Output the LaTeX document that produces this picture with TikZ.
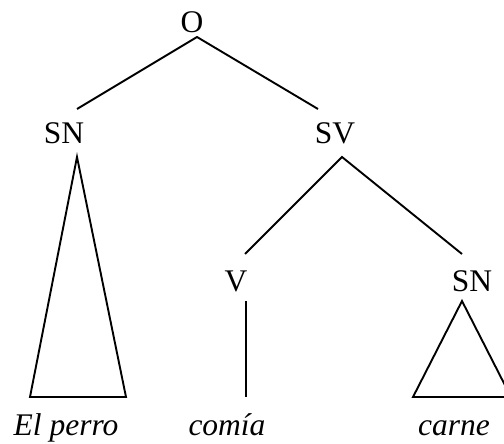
\documentclass[tikz,border=0pt]{standalone}
\usepackage{fontspec}
\setmainfont{Liberation Serif}
\begin{document}
\begin{tikzpicture}[x=1pt,y=-1pt,
  lbl/.style={anchor=base,inner sep=0pt,font=\fontsize{31.5}{38}\selectfont},
  word/.style={lbl,font=\fontsize{31.5}{38}\selectfont\itshape},
  edge/.style={line width=1.9pt,line join=miter}]
  \useasboundingbox (0,0) rectangle (504,444);
  \clip (0,0) rectangle (504,444);

  % category labels
  \node[lbl] (O)   at (192,33)  {O};
  \node[lbl] (SN1) at (64,143)  {SN};
  \node[lbl] (SV)  at (335,143) {SV};
  \node[lbl] (V)   at (236,291) {V};
  \node[lbl] (SN2) at (472,291) {SN};

  % terminal words
  \node[word] (w1) at (66,435)  {El perro};
  \node[word] (w2) at (227,435) {comía};
  \node[word] (w3) at (454,435) {carne};

  % branch end points
  \coordinate (Ot)  at (197,37);
  \coordinate (SN1t) at (77,109);
  \coordinate (SVt)  at (318,109);
  \coordinate (SN1b) at (77,157);
  \coordinate (SVb)  at (342,157);
  \coordinate (Vt)   at (245,254);
  \coordinate (SN2t) at (462,254);
  \coordinate (Vb)   at (246,301);
  \coordinate (w2t)  at (246,397);
  \coordinate (SN2b) at (462,301);

  % branches
  \draw[edge] (SN1t) -- (Ot) -- (SVt);
  \draw[edge] (Vt) -- (SVb) -- (SN2t);
  \draw[edge] (Vb) -- (w2t);

  % triangles over unanalysed phrases
  \draw[edge] (SN1b) -- (30,397) -- (126,397) -- cycle;
  \draw[edge] (SN2b) -- (413,397) -- (511,397) -- cycle;
\end{tikzpicture}
\end{document}
